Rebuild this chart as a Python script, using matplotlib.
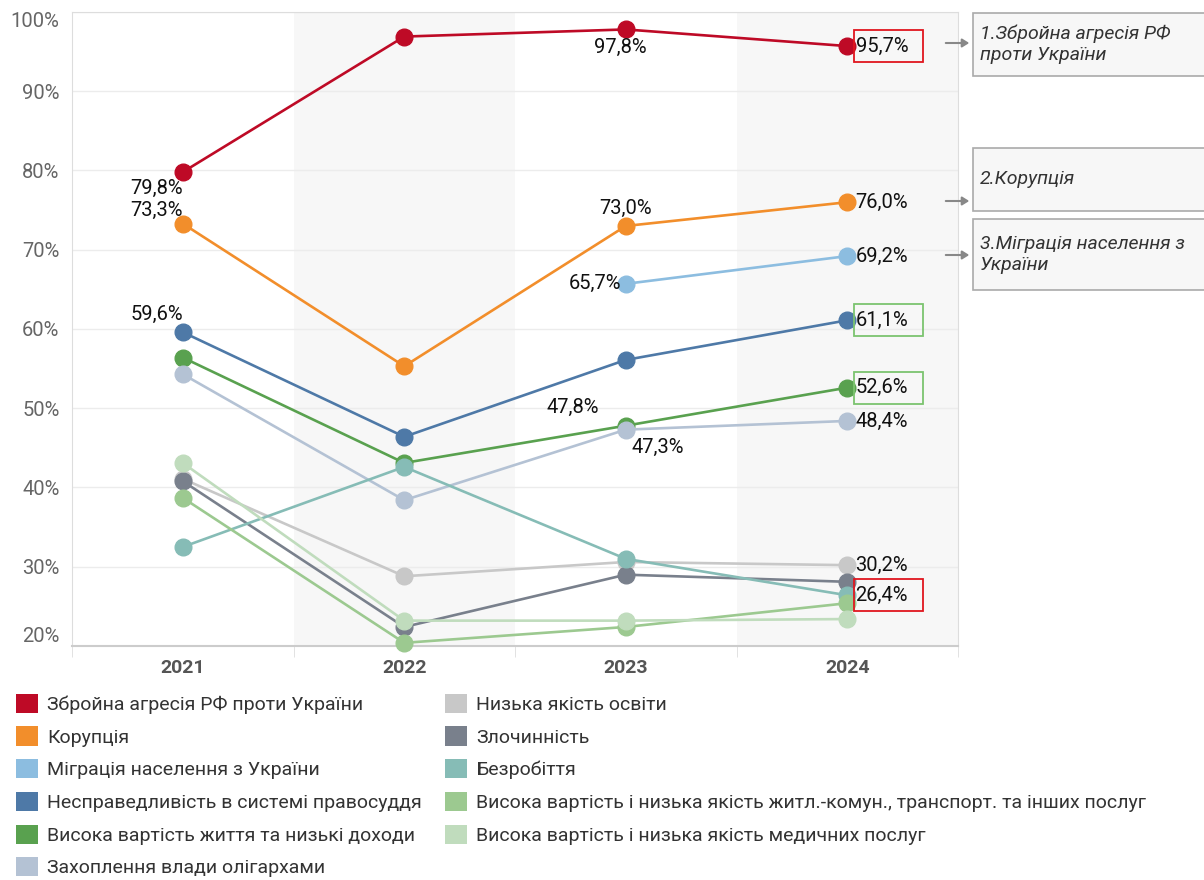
import matplotlib
matplotlib.use("Agg")
import matplotlib.pyplot as plt
from matplotlib.patches import Patch, Rectangle, FancyArrowPatch

plt.rcParams['font.family'] = ['Roboto', 'DejaVu Sans']

# --- дані ---
years = [2021, 2022, 2023, 2024]

names = [
    "Збройна агресія РФ проти України",
    "Корупція",
    "Міграція населення з України",
    "Несправедливість в системі правосуддя",
    "Висока вартість життя та низькі доходи",
    "Захоплення влади олігархами",
    "Низька якість освіти",
    "Злочинність",
    "Безробіття",
    "Висока вартість і низька якість житл.-комун., транспорт. та інших послуг",
    "Висока вартість і низька якість медичних послуг",
]

aggression = [79.8, 96.9, 97.8, 95.7]
corruption = [73.3, 55.3, 73.0, 76.0]
migration = [None, None, 65.7, 69.2]
justice = [59.6, 46.4, 56.1, 61.1]
living_cost = [56.4, 43.1, 47.8, 52.6]
oligarchs = [54.3, 38.4, 47.3, 48.4]
education = [41.1, 28.8, 30.6, 30.2]
crime = [40.8, 22.4, 29.0, 28.1]
unemployment = [32.5, 42.6, 31.0, 26.4]
housing = [38.7, 20.4, 22.4, 25.4]
medical = [43.1, 23.2, 23.2, 23.4]

series = [aggression, corruption, migration, justice, living_cost, oligarchs,
          education, crime, unemployment, housing, medical]

colors = ['#be0a26', '#f28e2b', '#8cbde0', '#4e79a7', '#59a14f', '#b4c2d4',
          '#c8c8c8', '#79808c', '#86bcb6', '#9cc990', '#c0dcbd']

# підписи: (індекс серії, індекс року, dx, dy, ha, va)
labels = [
    (0, 0, 0, -5, 'right', 'top'),
    (1, 0, 0, 3, 'right', 'bottom'),
    (3, 0, 0, 6, 'right', 'bottom'),
    (0, 2, -4, -6, 'center', 'top'),
    (1, 2, 0, 6, 'center', 'bottom'),
    (2, 2, -3, 0, 'right', 'center'),
    (4, 2, -19, 6, 'right', 'bottom'),
    (5, 2, 23, -6, 'center', 'top'),
    (0, 3, 6, 0, 'left', 'center'),
    (1, 3, 6, 0, 'left', 'center'),
    (2, 3, 6, 0, 'left', 'center'),
    (3, 3, 6, 0, 'left', 'center'),
    (4, 3, 6, 0, 'left', 'center'),
    (5, 3, 6, 0, 'left', 'center'),
    (6, 3, 6, 0, 'left', 'center'),
    (8, 3, 6, 0, 'left', 'center'),
]
boxed = {(0, 3): '#e0161e', (3, 3): '#7cc46f', (4, 3): '#7cc46f', (8, 3): '#e0161e'}

notes = ["1.Збройна агресія РФ\nпроти України", "2.Корупція",
         "3.Міграція населення з\nУкраїни"]


def fmt(v):
    return f"{v:.1f}".replace('.', ',') + '%'


fig = plt.figure(figsize=(12.04, 8.80), dpi=100)
ax_w, ax_h = 958 - 72, 646 - 12
ax = fig.add_axes([72 / 1204, 1 - 646 / 880, ax_w / 1204, ax_h / 880])

ax.set_xlim(2020.5, 2024.5)
ax.set_ylim(20, 100)
ax.axvspan(2021.5, 2022.5, color='#f7f7f7', zorder=0, lw=0)
ax.axvspan(2023.5, 2024.5, color='#f7f7f7', zorder=0, lw=0)
ax.grid(axis='y', color='#ececec', lw=1, zorder=0.5)
ax.set_axisbelow(True)

# пікселі -> одиниці даних
px_x = 4 / ax_w
px_y = 80 / ax_h

for vals, c in zip(series, colors):
    xs = [y for y, v in zip(years, vals) if v is not None]
    ys = [v for v in vals if v is not None]
    ax.plot(xs, ys, color=c, lw=1.9, marker='o', ms=12, zorder=3, clip_on=False)

for si, yi, dx, dy, ha, va in labels:
    v = series[si][yi]
    ax.annotate(fmt(v), (years[yi], v), xytext=(dx, dy), textcoords='offset points',
                ha=ha, va=va, fontsize=14.5, color='#111111', zorder=5)
    if (si, yi) in boxed:
        ax.add_patch(Rectangle((years[yi] + 7 * px_x, v - 16 * px_y), 69 * px_x, 32 * px_y,
                               fc='none', ec=boxed[(si, yi)], lw=1.3, zorder=6, clip_on=False))

ax.set_xticks(years)
ax.set_xticklabels([str(y) for y in years], fontsize=14, fontweight='bold', color='#555555')
ax.set_xticks([2020.5, 2021.5, 2022.5, 2023.5, 2024.5], minor=True)
ax.tick_params(axis='x', which='major', length=0, pad=9)
ax.tick_params(axis='x', which='minor', length=8, color='#dddddd')

yt = list(range(20, 101, 10))
ax.set_yticks(yt)
ax.set_yticklabels([f"{v}%" for v in yt], fontsize=14.5, color='#666666')
ax.tick_params(axis='y', length=0, pad=9)
tl = ax.get_yticklabels()
tl[0].set_va('bottom')
tl[-1].set_va('top')

for s in ['left', 'top', 'right']:
    ax.spines[s].set_color('#dddddd')
ax.spines['bottom'].set_color('#cccccc')
ax.spines['bottom'].set_linewidth(1.5)

# легенда
handles = [Patch(facecolor=c, edgecolor='none') for c in colors]
fig.legend(handles, names, loc='upper left', bbox_to_anchor=(8 / 1204, 1 - 686 / 880),
           ncol=2, frameon=False, fontsize=14, handlelength=1.15, handleheight=1.15,
           handletextpad=0.45, labelspacing=0.64, columnspacing=1.2, borderaxespad=0,
           labelcolor='#333333')

# примітки праворуч
boxes = [(13, 76), (148, 211), (219, 290)]
arrows_y = [43, 201, 255]
for (top, bot), ay, txt in zip(boxes, arrows_y, notes):
    fig.patches.append(Rectangle((973 / 1204, 1 - bot / 880), 240 / 1204, (bot - top) / 880,
                                 transform=fig.transFigure, fc='#f7f7f7', ec='#aaaaaa', lw=1.2))
    fig.text(980 / 1204, 1 - (top + bot) / 2 / 880, txt, fontsize=14, style='italic',
             color='#333333', va='center', ha='left', linespacing=1.25)
    fig.add_artist(FancyArrowPatch(
        (943 / 1204, 1 - ay / 880), (972 / 1204, 1 - ay / 880), transform=fig.transFigure,
        arrowstyle='-|>,head_length=4,head_width=2.5', color='#888888', lw=1.5))

fig.savefig("out.png", dpi=100)
